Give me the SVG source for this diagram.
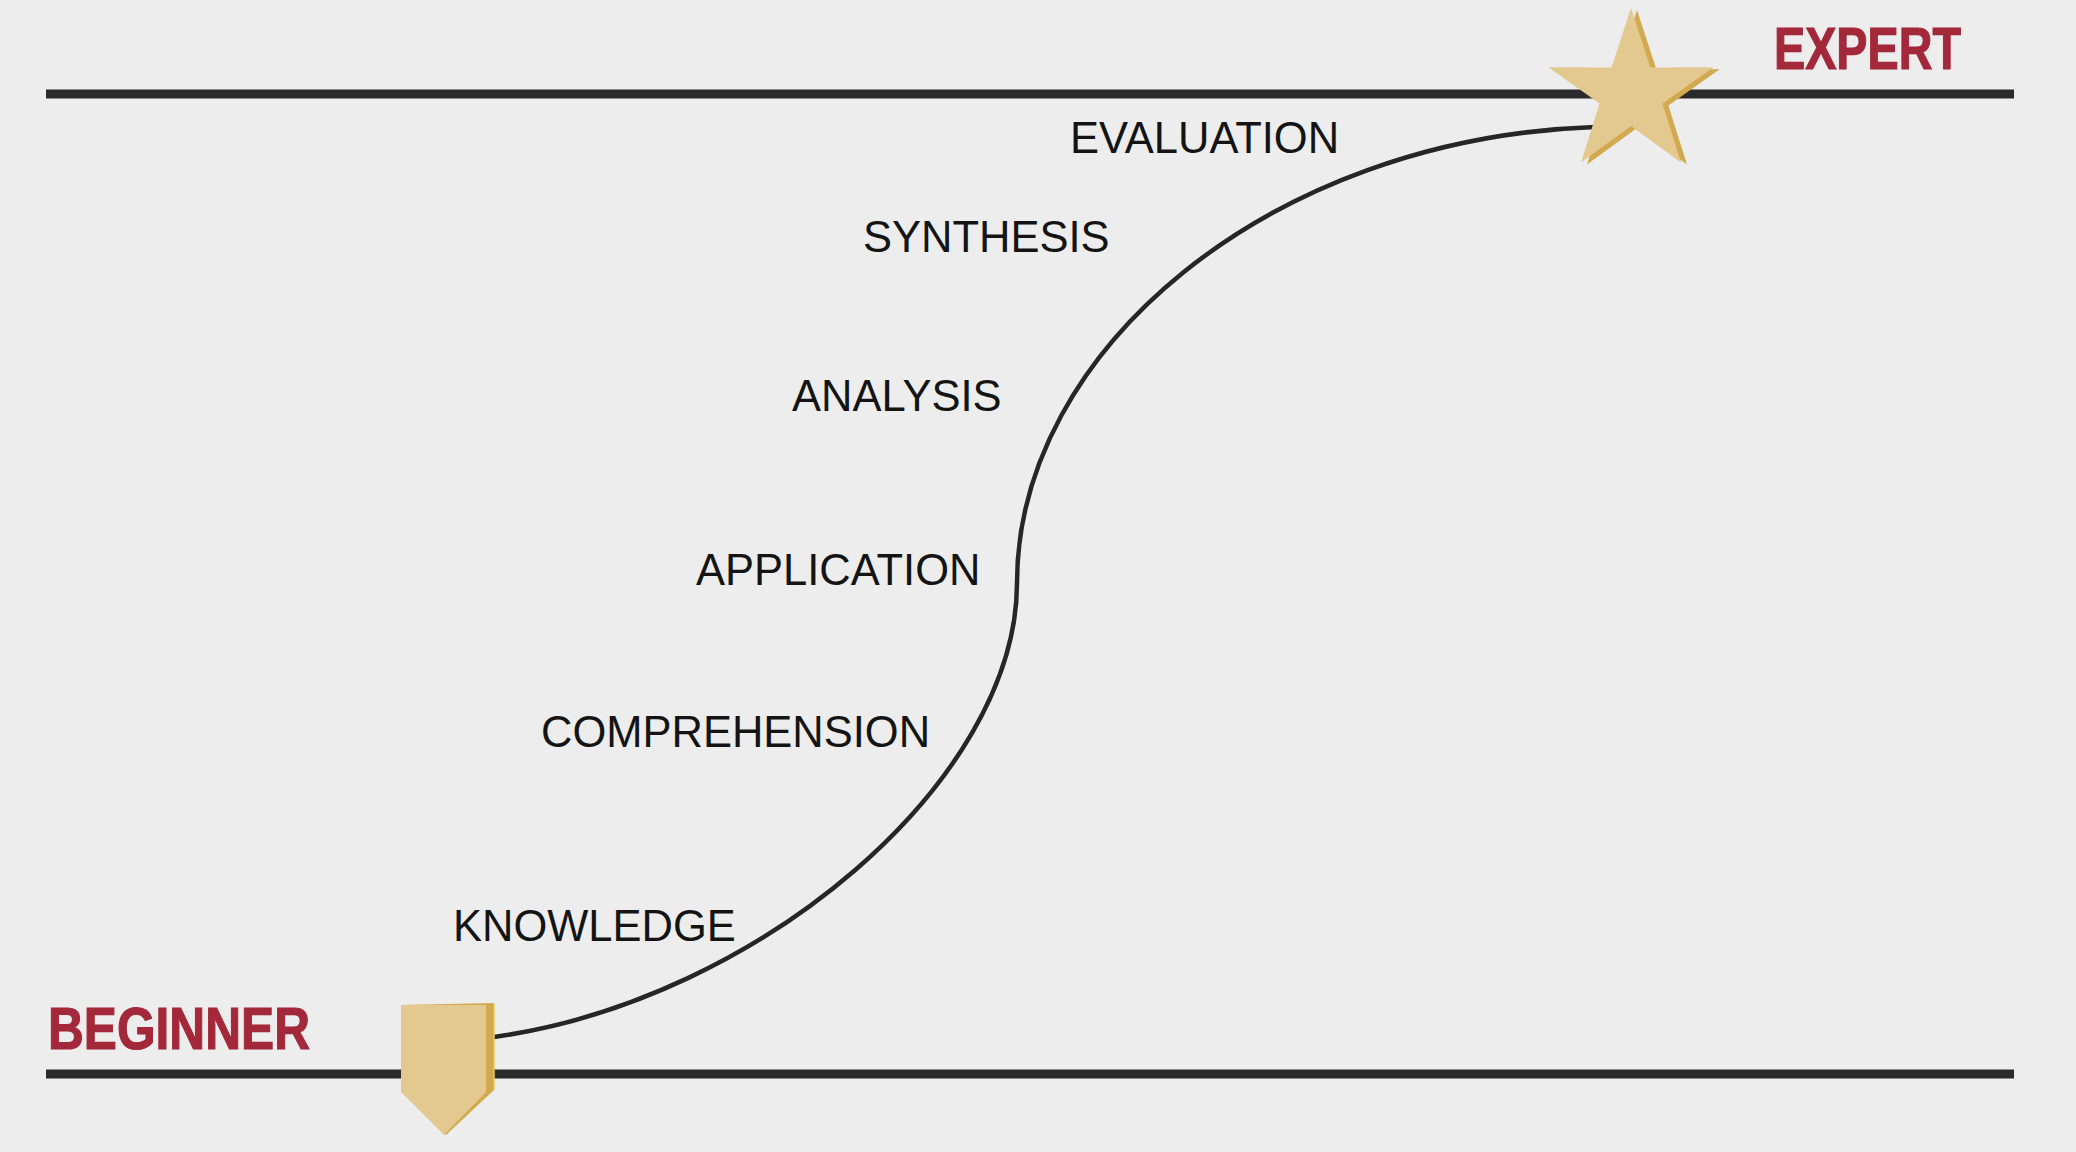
<svg xmlns="http://www.w3.org/2000/svg" width="2076" height="1152" viewBox="0 0 2076 1152">
  <style>
    .axis { stroke: #2a2a2a; stroke-width: 9; fill: none; }
    .curve { stroke: #262626; stroke-width: 4.5; fill: none; stroke-linecap: round; }
    .stage { font-family: "Liberation Sans", Arial, sans-serif; font-size: 43.5px; fill: #141414; }
    .level { font-family: "Liberation Sans Narrow", "Liberation Sans", Arial, sans-serif; font-weight: bold; font-size: 60px; fill: #a3283a; stroke: #a3283a; stroke-width: 1.2; }
    .face { fill: #e3c88f; }
    .side { fill: #d2a94f; }
  </style>
  <defs>
    <polygon id="starShape" points="1631,8 1650.4,67.5 1713.7,67.3 1662.4,103.5 1681,162.5 1631,126 1581,162.5 1599.6,103.5 1548.3,67.3 1611.6,67.5"/>
  </defs>
  <rect x="0" y="0" width="2076" height="1152" fill="#ededed"/>

  <g id="axes">
    <line class="axis" x1="46" y1="94" x2="2014" y2="94"/>
    <line class="axis" x1="46" y1="1074" x2="2014" y2="1074"/>
  </g>

  <g id="connectors">
    <path class="curve" d="M494,1037 C760,1000 1017,780 1017,583 C1017,350 1270,138 1595,127"/>
  </g>

  <g id="node-beginner-marker">
    <path class="side" d="M401,1005 L494,1003 L494,1090 L446,1135 L401,1090 Z"/>
    <path class="face" d="M401,1005 L486,1005 L486,1092 L444,1135 L401,1092 Z"/>
    <line x1="494" y1="1004" x2="494" y2="1090" stroke="#e6cf45" stroke-width="1.5"/>
  </g>

  <g id="node-expert-star">
    <use href="#starShape" class="side" transform="translate(6,2)"/>
    <use href="#starShape" class="face"/>
  </g>

  <g id="node-expert"><text class="level" x="1774" y="69" textLength="187" lengthAdjust="spacingAndGlyphs">EXPERT</text></g>
  <g id="node-beginner"><text class="level" x="48" y="1049" textLength="262" lengthAdjust="spacingAndGlyphs">BEGINNER</text></g>

  <g id="node-evaluation"><text class="stage" x="1070" y="153">EVALUATION</text></g>
  <g id="node-synthesis"><text class="stage" x="863" y="252">SYNTHESIS</text></g>
  <g id="node-analysis"><text class="stage" x="792" y="411">ANALYSIS</text></g>
  <g id="node-application"><text class="stage" x="696" y="585">APPLICATION</text></g>
  <g id="node-comprehension"><text class="stage" x="541" y="747">COMPREHENSION</text></g>
  <g id="node-knowledge"><text class="stage" x="453" y="941">KNOWLEDGE</text></g>
</svg>
